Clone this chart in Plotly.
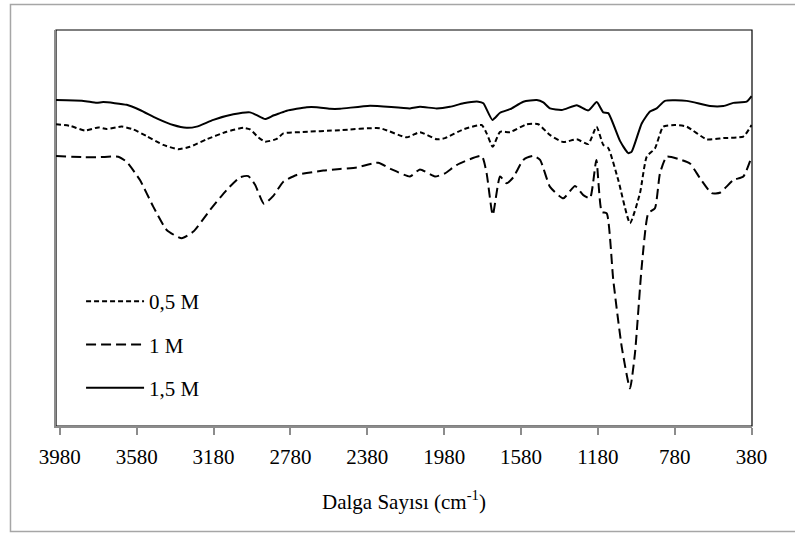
import plotly.graph_objects as go

# Wavenumbers (cm-1) and transmittance-like values (arbitrary %)
x_05M = [4000, 3927, 3849, 3780, 3736, 3658, 3598, 3528, 3442, 3364, 3303, 3216, 3112, 3025, 2990,
         2947, 2912, 2851, 2817, 2730, 2522, 2314, 2175, 2106, 2019, 1976, 1880, 1785, 1759, 1727,
         1689, 1637, 1550, 1490, 1430, 1360, 1290, 1230, 1187, 1152, 1126, 1074, 1013, 961, 926,
         883, 840, 779, 718, 614, 527, 423, 380]
y_05M = [76.2, 75.8, 74.6, 75.4, 75.0, 75.6, 74.9, 73.2, 71.0, 69.9, 70.5, 72.4, 74.3, 75.3, 74.9,
         72.9, 71.8, 72.5, 73.9, 74.2, 74.7, 75.2, 72.9, 74.2, 72.4, 72.7, 74.9, 76.0, 73.9, 70.5,
         74.3, 74.2, 76.2, 76.2, 73.5, 71.7, 72.4, 71.2, 75.6, 71.0, 70.2, 62.1, 51.2, 58.8, 68.0,
         70.1, 75.6, 76.0, 75.6, 72.4, 72.7, 73.1, 76.0]

x_1M = [4000, 3858, 3771, 3676, 3632, 3563, 3494, 3424, 3346, 3285, 3199, 3112, 3042, 2999, 2964,
        2918, 2869, 2817, 2747, 2609, 2522, 2435, 2323, 2253, 2158, 2106, 2028, 1976, 1915, 1785,
        1759, 1727, 1689, 1655, 1620, 1568, 1516, 1481, 1429, 1360, 1299, 1256, 1221, 1188, 1160,
        1134, 1100, 1056, 1013, 987, 952, 918, 883, 857, 822, 753, 701, 649, 588, 545, 475, 423, 380]
y_1M = [68.2, 67.9, 67.9, 68.0, 66.7, 62.1, 55.4, 49.5, 47.4, 49.1, 54.5, 59.6, 62.8, 63.1, 60.9,
        56.1, 58.1, 61.7, 63.4, 64.5, 64.9, 65.3, 66.5, 64.8, 63.0, 64.8, 63.0, 63.8, 65.9, 68.2,
        63.8, 53.3, 63.0, 61.3, 62.8, 67.2, 68.2, 67.2, 60.4, 57.5, 60.6, 58.3, 57.5, 67.2, 54.1,
        53.7, 36.9, 20.0, 9.5, 18.4, 40.2, 53.7, 55.0, 63.8, 68.0, 67.3, 66.3, 62.6, 58.8, 58.9, 62.1, 63.0, 68.0]

x_15M = [4000, 3858, 3788, 3754, 3632, 3563, 3476, 3390, 3320, 3268, 3181, 3077, 2990, 2956, 2912,
         2869, 2834, 2799, 2695, 2643, 2574, 2522, 2366, 2158, 2106, 2019, 1950, 1880, 1802, 1776,
         1729, 1689, 1637, 1568, 1498, 1464, 1429, 1368, 1290, 1230, 1186, 1152, 1126, 1065, 1022,
         1004, 952, 909, 874, 831, 718, 597, 527, 475, 406, 380]
y_15M = [82.3, 82.1, 81.6, 81.8, 81.1, 79.8, 77.7, 76.0, 75.3, 75.6, 77.3, 78.7, 79.2, 78.5, 77.5,
         78.4, 79.0, 79.6, 80.5, 80.5, 80.1, 80.1, 80.9, 80.2, 80.6, 80.2, 80.6, 81.5, 81.9, 81.5,
         77.3, 79.1, 80.0, 81.9, 82.3, 81.7, 80.2, 79.8, 81.0, 79.7, 81.8, 79.2, 79.0, 72.0, 68.9,
         69.3, 76.4, 79.4, 80.2, 82.1, 82.1, 80.8, 80.8, 81.6, 81.9, 83.3]

tick_vals = [3980, 3580, 3180, 2780, 2380, 1980, 1580, 1180, 780, 380]
tick_text = [str(v) for v in tick_vals]

FONT = "Liberation Serif, Times New Roman, Times, serif"

fig = go.Figure()
series = [
    ("0,5 M", x_05M, y_05M, "5px,3px"),
    ("1 M", x_1M, y_1M, "10px,5px"),
    ("1,5 M", x_15M, y_15M, "solid"),
]
for i, (name, xs, ys, dash) in enumerate(series):
    fig.add_trace(go.Scatter(
        x=xs, y=ys, mode="lines", name=name, legendgroup=f"g{i}",
        line=dict(color="black", width=2, dash=dash, shape="spline", smoothing=0.5),
    ))

fig.update_layout(
    width=795, height=534,
    margin=dict(l=56, r=43, t=30, b=108),
    paper_bgcolor="white", plot_bgcolor="white",
    font=dict(family=FONT, size=21, color="black"),
    showlegend=True,
    legend=dict(x=0.036, y=0.366, xanchor="left", yanchor="top",
                bgcolor="rgba(0,0,0,0)", traceorder="grouped", tracegroupgap=13,
                itemwidth=58, font=dict(family=FONT, size=21, color="black")),
    xaxis=dict(
        range=[4000, 378], tickmode="array", tickvals=tick_vals, ticktext=tick_text,
        ticks="outside", ticklen=7, tickwidth=1.5, tickcolor="#8c8c8c",
        showline=True, linecolor="#8c8c8c", linewidth=2, showgrid=False, zeroline=False,
        tickfont=dict(family=FONT, size=21, color="black"), ticklabelstandoff=4,
        title=dict(text="Dalga Sayısı (cm<sup>-1</sup>)", font=dict(family=FONT, size=21, color="black"), standoff=26),
    ),
    yaxis=dict(
        range=[0, 100], showticklabels=False, ticks="", showgrid=False, zeroline=False,
        showline=True, linecolor="#8c8c8c", linewidth=2,
    ),
    shapes=[
        dict(type="rect", xref="paper", yref="paper", x0=0, x1=1, y0=0, y1=1,
             line=dict(color="black", width=1.2), layer="below"),
        dict(type="rect", xref="paper", yref="paper", x0=-0.0654, x1=1.07, y0=-0.2664, y1=1.0644,
             line=dict(color="#a6a6a6", width=1.5), layer="below"),
    ],
)

fig.write_html("out.html", config={"displayModeBar": False},
               post_script="document.body.style.margin='0px';")
